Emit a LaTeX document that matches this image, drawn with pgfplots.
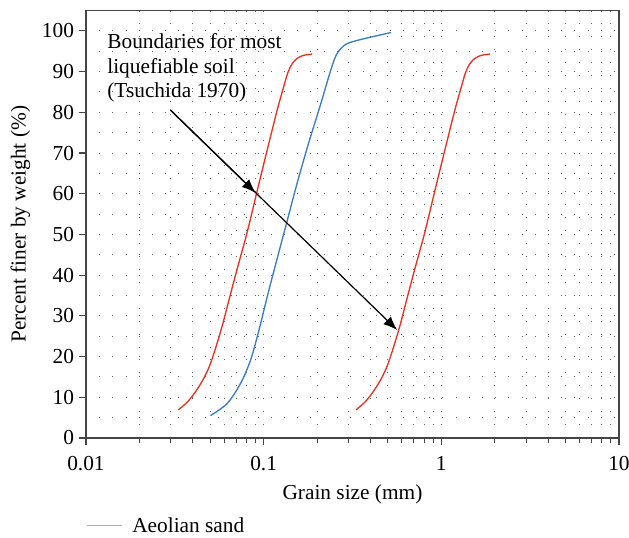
\documentclass[border=0pt]{standalone}
\usepackage{fontspec}
\setmainfont{Liberation Serif}
\usepackage{pgfplots}
\pgfplotsset{compat=1.18}
\usetikzlibrary{arrows.meta}
\definecolor{redline}{HTML}{E8321E}
\definecolor{blueline}{HTML}{3A7BC8}
\definecolor{bluelegend}{HTML}{9AB4E0}
\definecolor{axisgray}{HTML}{444444}
\definecolor{dotgray}{HTML}{666666}
\begin{document}
\begin{tikzpicture}
\begin{semilogxaxis}[
  scale only axis,
  width=399.75pt, height=320.6pt,
  xmin=0.01, xmax=10, ymin=0, ymax=105,
  font=\fontsize{16}{19}\selectfont,
  /pgf/number format/assume math mode=true,
  axis line style={axisgray, line width=0.9pt},
  tick align=outside,
  major tick style={axisgray, line width=0.8pt},
  major tick length=5.5pt,
  minor tick length=4pt,
  xtick={0.01,0.1,1,10},
  xticklabels={0.01,0.1,1,10},
  minor xtick={0.02,0.03,0.04,0.05,0.06,0.07,0.08,0.09,0.2,0.3,0.4,0.5,0.6,0.7,0.8,0.9,2,3,4,5,6,7,8,9},
  minor x tick style={axisgray, line width=0.8pt},
  ytick={0,10,...,100},
  minor y tick num=1,
  minor y tick style={draw=none},
  xtick pos=bottom, ytick pos=left,
  grid=both,
  major x grid style={dotgray, line width=0.7pt, dash pattern=on 0.7pt off 9pt},
  minor x grid style={dotgray, line width=0.7pt, dash pattern=on 0.7pt off 9pt},
  major y grid style={dotgray, line width=0.7pt, dash pattern=on 0.7pt off 9.2pt},
  minor y grid style={dotgray, line width=0.7pt, dash pattern=on 0.7pt off 9.2pt},
  xticklabel style={anchor=base, yshift=-18.5pt},
  yticklabel style={anchor=east},
  xlabel={Grain size (mm)},
  ylabel={Percent finer by weight (\%)},
  xlabel style={at={(axis description cs:0.5,-0.145)}, anchor=base},
  ylabel style={at={(axis description cs:-0.0960,0.5)}, anchor=south, rotate=0},
  legend style={draw=none, fill=none, at={(axis description cs:0,-0.205)}, anchor=west,
    inner sep=0pt, outer sep=0pt, nodes={inner sep=0pt}, font=\fontsize{16}{19}\selectfont},
  legend cell align=left,
  legend image code/.code={\draw[bluelegend, line width=1pt] (0pt,0pt) -- (26.25pt,0pt);},
  legend columns=1,
]
\addplot[redline, line width=1pt, smooth, forget plot] coordinates {
(0.0331,6.9) (0.0375,9.0) (0.0420,11.8) (0.0462,14.8) (0.0499,18.0) (0.0540,22.5)
(0.0585,27.6) (0.0630,33.0) (0.0706,41.2) (0.0805,50.3) (0.0917,60.5) (0.1045,70.6)
(0.1189,80.4) (0.1297,86.3) (0.1370,89.8) (0.1450,92.0) (0.155,93.3) (0.168,94.0) (0.1875,94.3)};
\addplot[redline, line width=1pt, smooth, forget plot] coordinates {
(0.331,6.9) (0.375,9.0) (0.420,11.8) (0.462,14.8) (0.499,18.0) (0.540,22.5)
(0.585,27.6) (0.630,33.0) (0.706,41.2) (0.805,50.3) (0.917,60.5) (1.045,70.6)
(1.189,80.4) (1.297,86.3) (1.370,89.8) (1.450,92.0) (1.55,93.3) (1.68,94.0) (1.875,94.3)};
\addplot[blueline, line width=1pt, smooth] coordinates {
(0.0502,5.5) (0.0624,8.5) (0.0741,13.4) (0.0845,19.2) (0.0941,26.5) (0.106,35.6)
(0.119,44.0) (0.135,53.0) (0.153,62.0) (0.179,72.4) (0.210,82.2) (0.238,90.2)
(0.258,94.3) (0.290,96.7) (0.353,97.9) (0.522,99.6)};
\addlegendentry{\hspace{7.5pt}Aeolian sand}
\draw[black, line width=0.9pt, -{Latex[length=10.5pt, width=8pt]}] (axis cs:0.0298,80.6) -- (axis cs:0.565,26.5);
\draw[black, line width=0.9pt, -{Latex[length=10.5pt, width=8pt]}] (axis cs:0.0298,80.6) -- (axis cs:0.0901,60.2);
\node[anchor=north west, inner sep=0pt, align=left, font=\fontsize{16}{18.4}\selectfont] at (axis cs:0.01315,99.4)
  {Boundaries for most\\liquefiable soil\\(Tsuchida 1970)};
\end{semilogxaxis}
\pgfresetboundingbox
\path (current axis.south west) ++(-64.5pt,-74.25pt) rectangle ++(471.75pt,402.75pt);
\end{tikzpicture}
\end{document}
